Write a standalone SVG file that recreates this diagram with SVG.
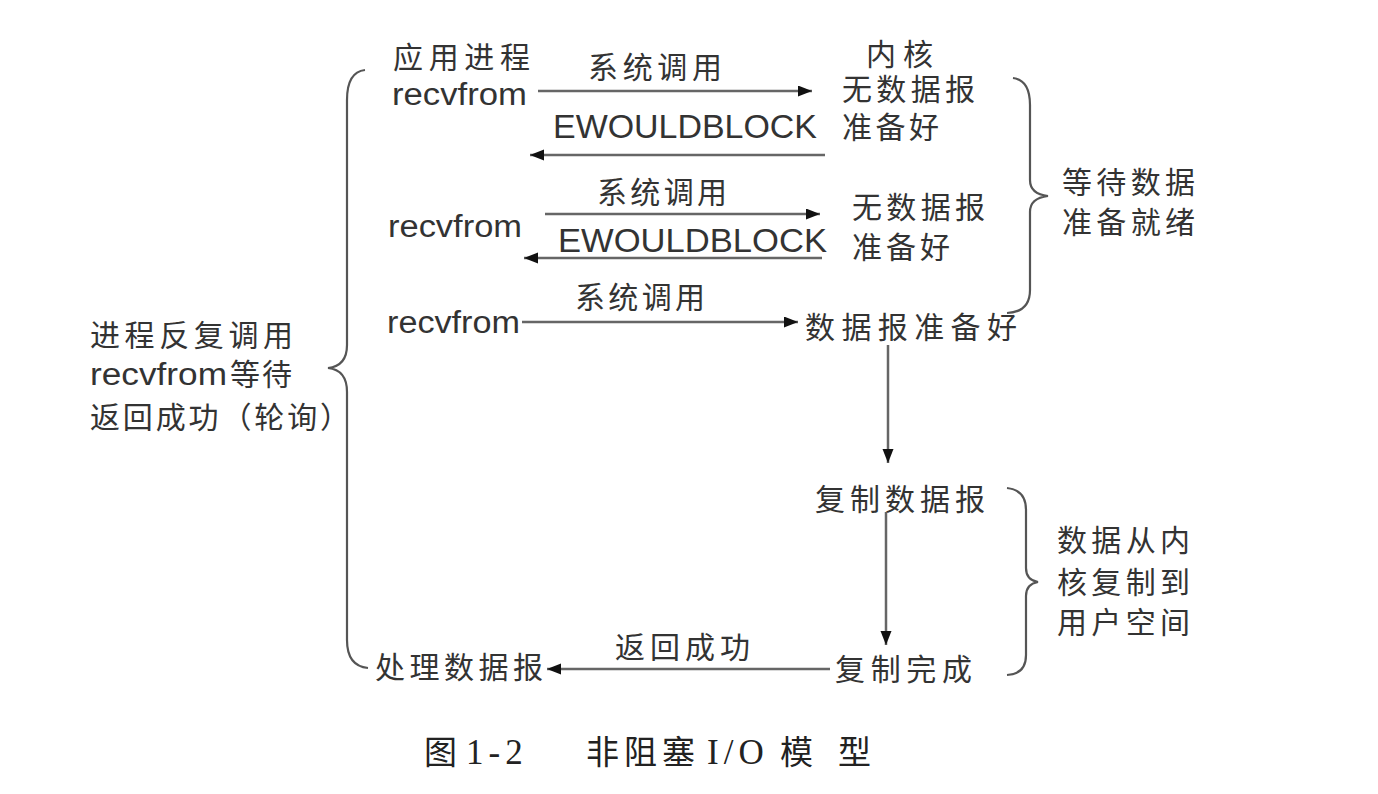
<svg xmlns="http://www.w3.org/2000/svg" width="1378" height="794" viewBox="0 0 1378 794">
<defs>
<style>
.t{font-family:"Liberation Sans","Noto Sans CJK SC",sans-serif;font-size:30px;fill:#333;}
.r{font-size:31px;}
.e{font-size:33px;}
.cap{font-family:"Liberation Serif","Noto Sans CJK SC",serif;font-size:33px;fill:#222;}
.num{font-size:35px;letter-spacing:5px;}
.ln{stroke:#666;stroke-width:2.5;fill:none;}
.br{stroke:#555;stroke-width:2.2;fill:none;}
</style>
<marker id="ah" markerUnits="userSpaceOnUse" markerWidth="16" markerHeight="12" refX="14" refY="5.5" orient="auto">
<path d="M0,0 L14,5.5 L0,11 z" fill="#111"/>
</marker>
</defs>
<rect width="1378" height="794" fill="#fff"/>

<g id="connectors">
<line class="ln" x1="538" y1="91" x2="812" y2="91" marker-end="url(#ah)"/>
<line class="ln" x1="825" y1="155" x2="530" y2="155" marker-end="url(#ah)"/>
<line class="ln" x1="545" y1="214" x2="820" y2="214" marker-end="url(#ah)"/>
<line class="ln" x1="822" y1="258" x2="524" y2="258" marker-end="url(#ah)"/>
<line class="ln" x1="522" y1="322" x2="798" y2="322" marker-end="url(#ah)"/>
<line class="ln" x1="888" y1="345" x2="888" y2="463" marker-end="url(#ah)"/>
<line class="ln" x1="886" y1="512" x2="886" y2="645" marker-end="url(#ah)"/>
<line class="ln" x1="830" y1="669" x2="547" y2="669" marker-end="url(#ah)"/>
</g>

<g id="braces">
<path id="brace-left" class="br" d="M365,70 Q347,72 347,100 L347,345 Q347,366 328,368 Q347,370 347,392 L347,640 Q347,666 368,668"/>
<path id="brace-wait" class="br" d="M1013,78 Q1030,80 1030,105 L1030,180 Q1030,194 1048,196 Q1030,198 1030,212 L1030,290 Q1030,312 1007,313"/>
<path id="brace-copy" class="br" d="M1007,488 Q1026,490 1026,510 L1026,568 Q1026,580 1038,582 Q1026,584 1026,596 L1026,655 Q1026,674 1007,675"/>
</g>

<g id="app-process"><text class="t" x="393" y="68" textLength="137" lengthAdjust="spacing">应用进程</text></g>
<g id="kernel"><text class="t" x="866" y="65" textLength="67" lengthAdjust="spacing">内核</text></g>

<g id="call1-label"><text class="t" x="588" y="78" textLength="134" lengthAdjust="spacing">系统调用</text></g>
<g id="recvfrom1"><text class="t r" x="392" y="105" textLength="135" lengthAdjust="spacingAndGlyphs">recvfrom</text></g>
<g id="nodata1">
<text class="t" x="842" y="100" textLength="133" lengthAdjust="spacing">无数据报</text>
<text class="t" x="842" y="138" textLength="97" lengthAdjust="spacing">准备好</text>
</g>
<g id="ewb1"><text class="t e" x="553" y="138" textLength="264" lengthAdjust="spacingAndGlyphs">EWOULDBLOCK</text></g>

<g id="call2-label"><text class="t" x="597" y="203" textLength="130" lengthAdjust="spacing">系统调用</text></g>
<g id="recvfrom2"><text class="t r" x="388" y="237" textLength="134" lengthAdjust="spacingAndGlyphs">recvfrom</text></g>
<g id="nodata2">
<text class="t" x="852" y="218" textLength="133" lengthAdjust="spacing">无数据报</text>
<text class="t" x="852" y="258" textLength="98" lengthAdjust="spacing">准备好</text>
</g>
<g id="ewb2"><text class="t e" x="558" y="252" textLength="269" lengthAdjust="spacingAndGlyphs">EWOULDBLOCK</text></g>

<g id="call3-label"><text class="t" x="575" y="308" textLength="130" lengthAdjust="spacing">系统调用</text></g>
<g id="recvfrom3"><text class="t r" x="387" y="333" textLength="133" lengthAdjust="spacingAndGlyphs">recvfrom</text></g>
<g id="data-ready"><text class="t" x="805" y="338" textLength="212" lengthAdjust="spacing">数据报准备好</text></g>

<g id="copy-data"><text class="t" x="815" y="510" textLength="170" lengthAdjust="spacing">复制数据报</text></g>
<g id="copy-done"><text class="t" x="835" y="680" textLength="137" lengthAdjust="spacing">复制完成</text></g>
<g id="return-ok"><text class="t" x="615" y="658" textLength="135" lengthAdjust="spacing">返回成功</text></g>
<g id="process-data"><text class="t" x="375" y="678" textLength="168" lengthAdjust="spacing">处理数据报</text></g>

<g id="left-note">
<text class="t" x="90" y="346" textLength="203" lengthAdjust="spacing">进程反复调用</text>
<text class="t" y="385"><tspan class="r" x="90" textLength="137" lengthAdjust="spacingAndGlyphs">recvfrom</tspan><tspan x="230" textLength="62" lengthAdjust="spacing">等待</tspan></text>
<text class="t" x="90" y="428" textLength="260" lengthAdjust="spacing">返回成功（轮询）</text>
</g>

<g id="wait-note">
<text class="t" x="1062" y="193" textLength="133" lengthAdjust="spacing">等待数据</text>
<text class="t" x="1062" y="233" textLength="133" lengthAdjust="spacing">准备就绪</text>
</g>

<g id="copy-note">
<text class="t" x="1057" y="551" textLength="133" lengthAdjust="spacing">数据从内</text>
<text class="t" x="1057" y="593" textLength="133" lengthAdjust="spacing">核复制到</text>
<text class="t" x="1057" y="633" textLength="133" lengthAdjust="spacing">用户空间</text>
</g>

<g id="caption">
<text class="cap" y="764"><tspan x="424">图</tspan><tspan class="num" x="466">1-2</tspan><tspan x="586 624 662">非阻塞</tspan><tspan class="num" x="707">I/O</tspan><tspan x="780 838">模型</tspan></text>
</g>
</svg>
